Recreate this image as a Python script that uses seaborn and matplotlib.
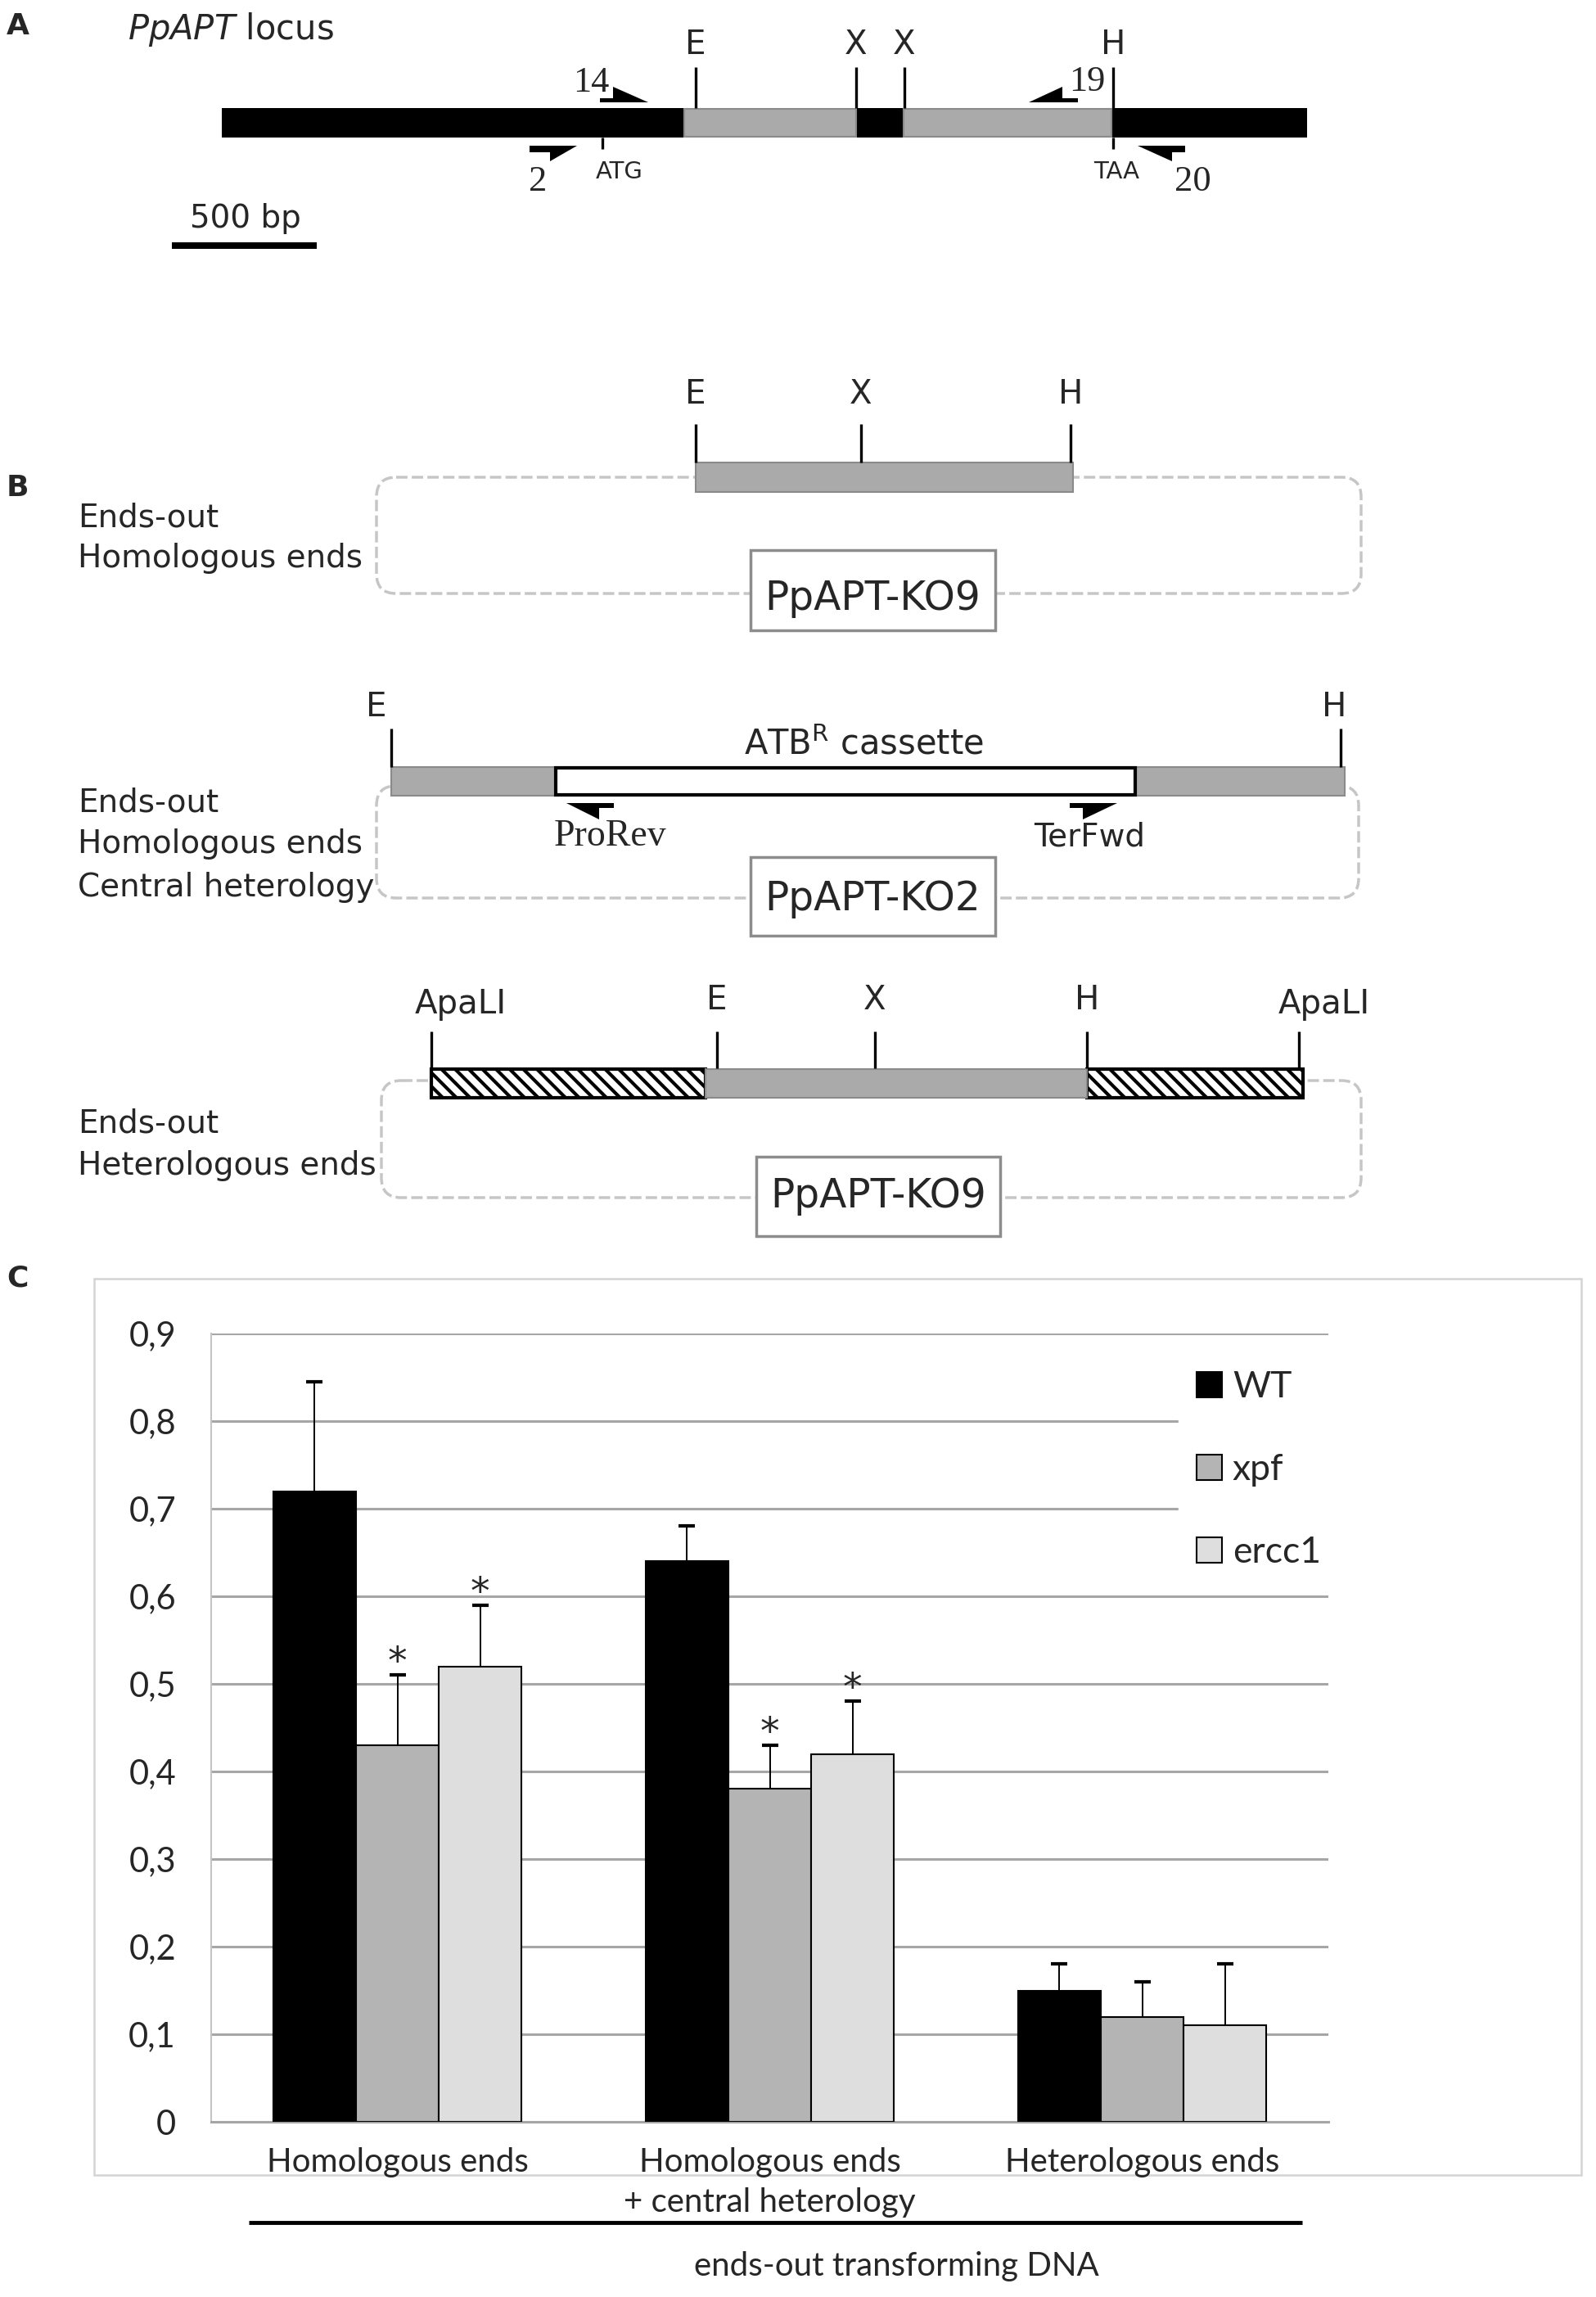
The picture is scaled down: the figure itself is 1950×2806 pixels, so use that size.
import numpy as np
import pandas as pd
import matplotlib
matplotlib.use('Agg')
import matplotlib.pyplot as plt
from matplotlib.patches import Rectangle, Polygon, FancyBboxPatch, Patch
import seaborn as sns

sns.set_style('white')
plt.rcParams['font.family'] = ['DejaVu Sans']
plt.rcParams['mathtext.fontset'] = 'dejavusans'
plt.rcParams['hatch.linewidth'] = 3.0

# ---- panel C data (relative targeting frequency) ----
constructs = ['Homologous ends', 'Homologous ends\n+ central heterology', 'Heterologous ends']
strains = ['WT', 'xpf', 'ercc1']
strain_colors = ['#000000', '#b4b4b4', '#dedede']
wt_freq = [0.72, 0.64, 0.15]
xpf_freq = [0.43, 0.38, 0.12]
ercc1_freq = [0.52, 0.42, 0.11]
wt_err = [0.125, 0.04, 0.03]
xpf_err = [0.08, 0.05, 0.04]
ercc1_err = [0.07, 0.06, 0.07]
wt_sig = [False, False, False]
xpf_sig = [True, True, False]
ercc1_sig = [True, True, False]
ytick_values = [0, 0.1, 0.2, 0.3, 0.4, 0.5, 0.6, 0.7, 0.8, 0.9]
ytick_labels = ['0', '0,1', '0,2', '0,3', '0,4', '0,5', '0,6', '0,7', '0,8', '0,9']

W, H = 1950, 2806
fig = plt.figure(figsize=(W / 100, H / 100), dpi=100)
fig.patch.set_facecolor('white')

# page-sized axes in pixel units for the construct schematics
dax = fig.add_axes([0, 0, 1, 1])
dax.set_xlim(0, W)
dax.set_ylim(H, 0)
dax.axis('off')

GRAY = '#aaaaaa'
GRAY_EDGE = '#8a8a8a'


def label(x, y, s, size=28, family='DejaVu Sans', ha='center', **kw):
    dax.text(x, y, s, fontsize=size, family=family, ha=ha, va='baseline', **kw)


def site(x, y0, y1, lw=2.4):
    dax.plot([x, x], [y0, y1], color='black', lw=lw, solid_capstyle='butt', zorder=4)


def primer(pts):
    dax.add_patch(Polygon(pts, closed=True, facecolor='black', edgecolor='none', zorder=4))


def box(x0, x1, y0, y1, **kw):
    dax.add_patch(Rectangle((x0, y0), x1 - x0, y1 - y0, **kw))


def vector(x0, x1, y0, y1):
    dax.add_patch(FancyBboxPatch((x0, y0), x1 - x0, y1 - y0,
                                 boxstyle='round,pad=0,rounding_size=24',
                                 fill=False, edgecolor='#c6c6c6', lw=2.5,
                                 linestyle=(0, (4, 1.5)), zorder=1))


def ko_box(x0, x1, y0, y1, name, baseline):
    box(x0, x1, y0, y1, facecolor='white', edgecolor='#8c8c8c', lw=2.5, zorder=3)
    label((x0 + x1) / 2, baseline, name, size=35, zorder=5)


# ---------------- panel A ----------------
label(8, 42, 'A', size=26, ha='left', fontweight='bold')
label(156, 48, r'$\mathit{PpAPT}$ locus', size=30, ha='left')

box(271, 1597, 132, 168, facecolor='black', edgecolor='none', zorder=2)
box(836, 1046, 133, 167, facecolor=GRAY, edgecolor=GRAY_EDGE, lw=1.5, zorder=3)
box(1104, 1358, 133, 167, facecolor=GRAY, edgecolor=GRAY_EDGE, lw=1.5, zorder=3)
for x, s in [(850, 'E'), (1046, 'X'), (1105, 'X'), (1360, 'H')]:
    site(x, 82, 132)
    label(x, 66, s, size=29)
site(736, 168, 182)
site(1360, 168, 182)
label(757, 218, 'ATG', size=21)
label(1364, 218, 'TAA', size=21)

primer([(733, 120), (749, 120), (749, 106), (792, 125), (733, 125)])
primer([(1257, 125), (1298, 106), (1298, 120), (1317, 120), (1317, 125)])
primer([(647, 178), (705, 178), (672, 197), (672, 186), (647, 186)])
primer([(1390, 178), (1448, 178), (1448, 186), (1432, 186), (1432, 197)])
label(722, 112, '14', size=32, family='Liberation Serif')
label(1328, 111, '19', size=32, family='Liberation Serif')
label(657, 233, '2', size=32, family='Liberation Serif')
label(1457, 233, '20', size=32, family='Liberation Serif')

box(210, 387, 296, 304, facecolor='black', edgecolor='none')
label(300, 278, '500 bp', size=28)

# ---------------- panel B ----------------
label(8, 606, 'B', size=26, ha='left', fontweight='bold')

# row 1: PpAPT-KO9, homologous ends
vector(460, 1663, 583, 725)
box(850, 1311, 565, 601, facecolor=GRAY, edgecolor=GRAY_EDGE, lw=1.5, zorder=2)
for x, s in [(850, 'E'), (1052, 'X'), (1308, 'H')]:
    site(x, 518, 565)
    label(x, 493, s, size=29)
label(95, 643, 'Ends-out', ha='left')
label(95, 693, 'Homologous ends', ha='left')
ko_box(917, 1216, 672, 770, 'PpAPT-KO9', 745)

# row 2: PpAPT-KO2, central heterology
vector(460, 1660, 960, 1097)
box(478, 1643, 937, 972, facecolor=GRAY, edgecolor=GRAY_EDGE, lw=1.5, zorder=2)
box(679, 1387, 938, 971, facecolor='white', edgecolor='black', lw=3, zorder=3)
site(478, 890, 937)
site(1638, 890, 937)
label(460, 875, 'E', size=29)
label(1630, 875, 'H', size=29)
label(1055, 922, r'ATB$^{\mathregular{R}}$ cassette', size=30)
primer([(692, 981), (750, 981), (750, 987), (732, 987), (732, 1001)])
primer([(1307, 981), (1365, 981), (1323, 1001), (1323, 987), (1307, 987)])
label(745, 1033, 'ProRev', size=33, family='Liberation Serif')
label(1331, 1033, 'TerFwd', size=28)
label(95, 992, 'Ends-out', ha='left')
label(95, 1042, 'Homologous ends', ha='left')
label(95, 1095, 'Central heterology', ha='left')
ko_box(917, 1216, 1047, 1143, 'PpAPT-KO2', 1112)

# row 3: PpAPT-KO9, heterologous ends
vector(466, 1663, 1320, 1463)
box(527, 862, 1306, 1341, facecolor='white', edgecolor='black', hatch='\\\\', lw=3, zorder=2)
box(1328, 1592, 1306, 1341, facecolor='white', edgecolor='black', hatch='\\\\', lw=3, zorder=2)
box(862, 1328, 1306, 1341, facecolor=GRAY, edgecolor=GRAY_EDGE, lw=1.5, zorder=3)
for x in [527, 876, 1069, 1328, 1587]:
    site(x, 1260, 1305)
for x, s in [(876, 'E'), (1069, 'X'), (1328, 'H')]:
    label(x, 1233, s, size=29)
label(563, 1238, 'ApaLI', size=29)
label(1618, 1238, 'ApaLI', size=29)
label(95, 1384, 'Ends-out', ha='left')
label(95, 1435, 'Heterologous ends', ha='left')
ko_box(924, 1222, 1413, 1510, 'PpAPT-KO9', 1475)

# ---------------- panel C ----------------
label(8, 1571, 'C', size=26, ha='left', fontweight='bold')
box(115, 1932, 1562, 2657, facecolor='none', edgecolor='#d4d4d4', lw=1.8, zorder=0)

df = pd.DataFrame({
    'construct': constructs * len(strains),
    'strain': np.repeat(strains, len(constructs)),
    'freq': wt_freq + xpf_freq + ercc1_freq,
    'err': wt_err + xpf_err + ercc1_err,
    'sig': wt_sig + xpf_sig + ercc1_sig,
})

ax = fig.add_axes([258 / W, 1 - 2592 / H, 1365 / W, 963 / H])
sns.barplot(data=df, x='construct', y='freq', hue='strain', order=constructs,
            hue_order=strains, palette=strain_colors, width=0.667, gap=0,
            errorbar=None, edgecolor='black', linewidth=1.5, legend=False,
            ax=ax, zorder=3)

for container, strain in zip(ax.containers, strains):
    sub = df[df['strain'] == strain].set_index('construct').loc[constructs]
    for bar, (_, row) in zip(container, sub.iterrows()):
        x = bar.get_x() + bar.get_width() / 2
        top = bar.get_height()
        ax.vlines(x, top, top + row['err'], color='black', lw=1.4, zorder=4)
        ax.plot([x], [top + row['err']], marker='_', ms=15, mew=3,
                color='black', zorder=4)
        if row['sig']:
            ax.text(x, top + row['err'] + 0.002, '*', ha='center', va='baseline',
                    fontsize=34, family='DejaVu Sans', zorder=5)

ax.set_xlim(-0.5, 2.5)
ax.set_ylim(0, 0.9)
ax.set_yticks(ytick_values)
ax.set_yticklabels(ytick_labels)
ax.set_xlabel('')
ax.set_ylabel('')
ax.set_axisbelow(True)
ax.yaxis.grid(True, color='#a6a6a6', lw=2.2)
ax.xaxis.grid(False)
for side in ['top', 'right']:
    ax.spines[side].set_visible(False)
ax.spines['left'].set_color('#c4c4c4')
ax.spines['left'].set_linewidth(1.5)
ax.spines['bottom'].set_color('#a6a6a6')
ax.spines['bottom'].set_linewidth(2.2)
ax.tick_params(axis='y', direction='out', length=7, width=1.5, color='#a6a6a6',
               pad=24, labelsize=30)
ax.tick_params(axis='x', length=0, pad=22, labelsize=29)
for lbl in ax.get_xticklabels() + ax.get_yticklabels():
    lbl.set_fontfamily('Lato')
for lbl in ax.get_xticklabels():
    lbl.set_linespacing(1.4)

handles = [Patch(facecolor=c, edgecolor='black', lw=1.5) for c in strain_colors]
ax.legend(handles, strains, loc='center left', bbox_to_anchor=(0.866, 0.827),
          frameon=True, framealpha=1, facecolor='white', edgecolor='white',
          fancybox=False, prop={'family': 'Lato', 'size': 32},
          handlelength=0.68, handleheight=0.68, handletextpad=0.3,
          labelspacing=1.35, borderpad=0.5, borderaxespad=0)

dax.plot([304, 1591], [2715, 2715], color='black', lw=3.5, solid_capstyle='butt')
label(1095, 2780, 'ends-out transforming DNA', size=29, family='Lato')

fig.savefig('out.png', dpi=100)
